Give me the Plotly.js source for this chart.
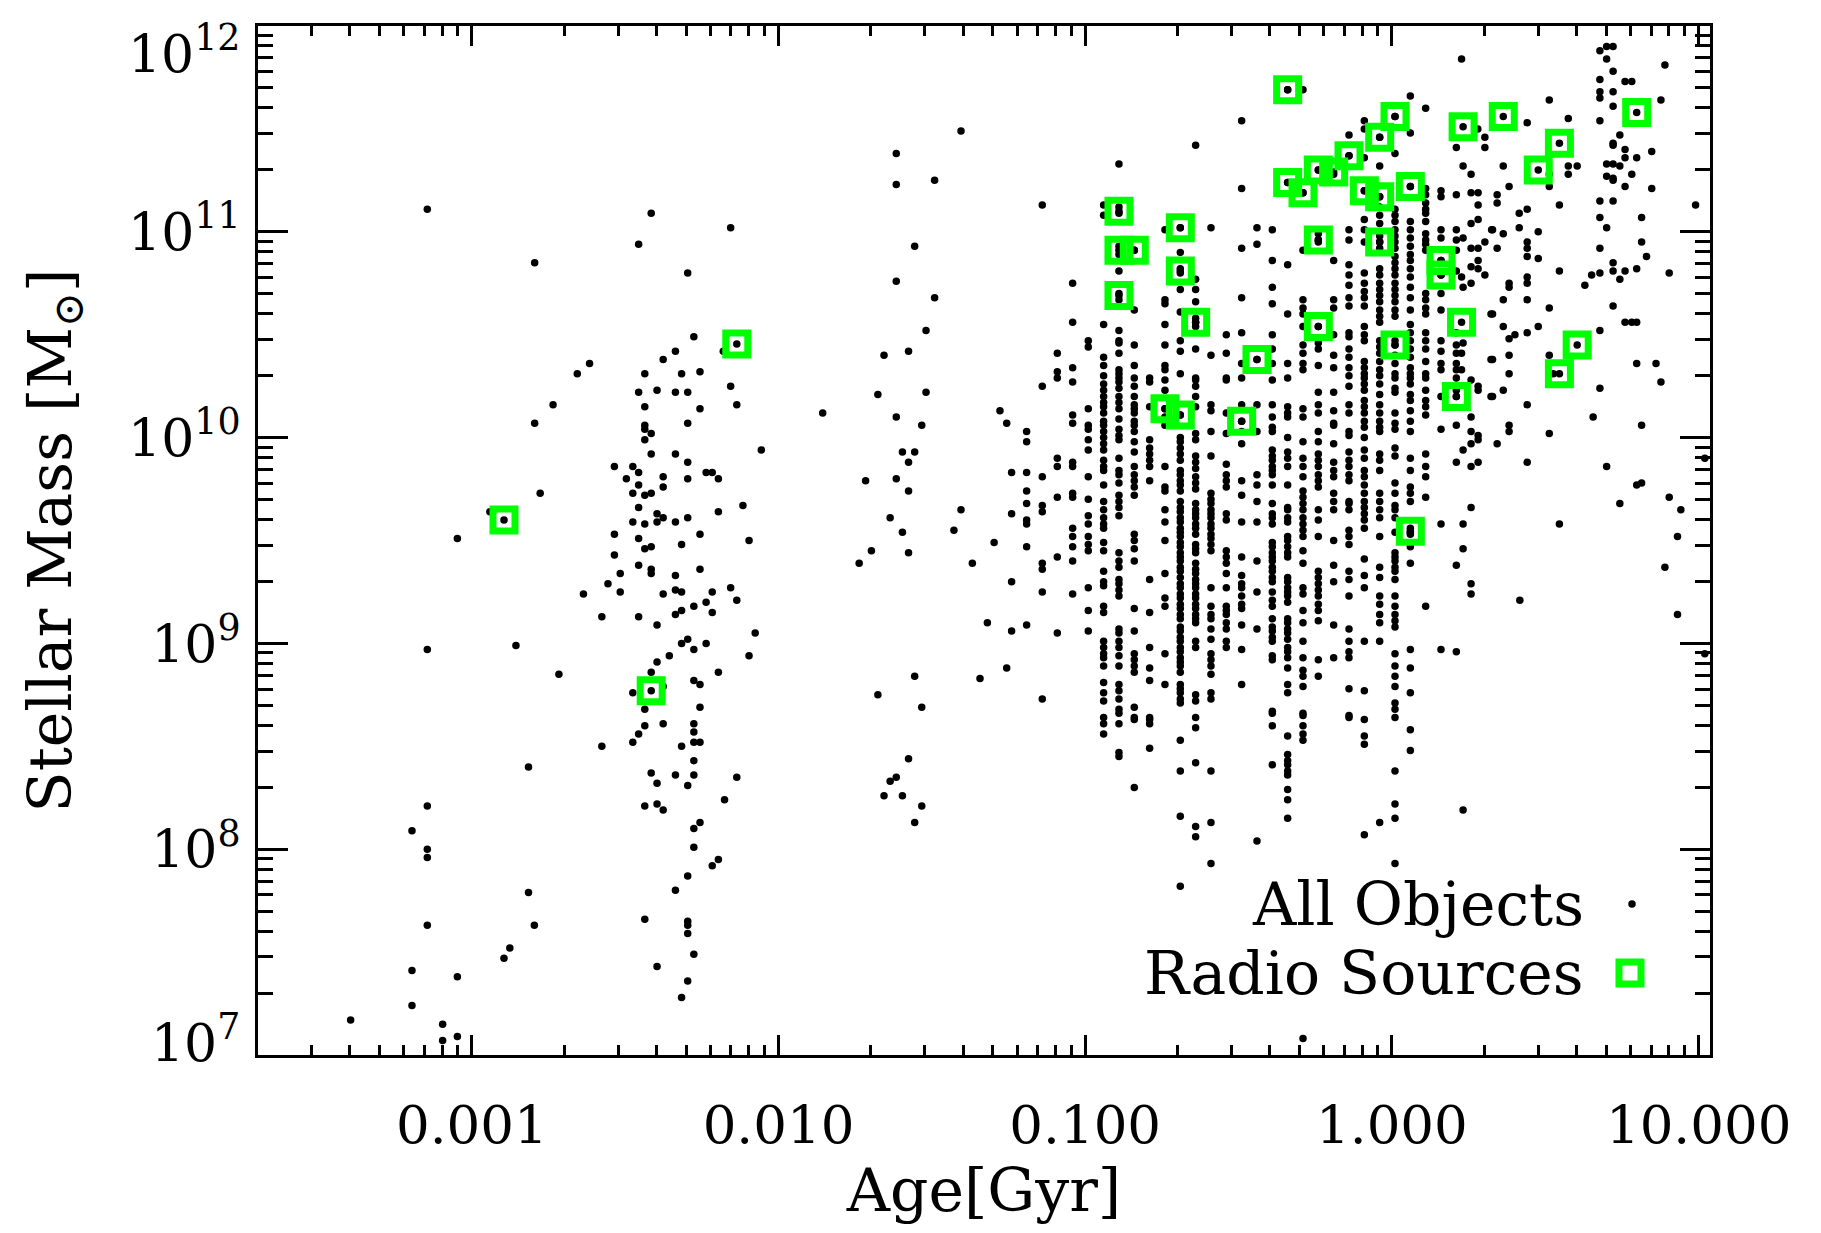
<!DOCTYPE html>
<html><head><meta charset="utf-8">
<script src="https://cdn.plot.ly/plotly-3.0.1.min.js"></script>
<style>html,body{margin:0;padding:0;background:#fff}</style>
</head><body><div id="chart" style="width:1821px;height:1233px"></div>
<script>
// ---- DATA (log10 Age [Gyr], log10 Stellar Mass [Msun]) ----

// Model-grid age columns (dense region, 0.1 - 1.6 Gyr)
const colLogAge = [-0.99,-0.94,-0.89,-0.84,-0.79,-0.74,-0.69,-0.64,-0.59,-0.54,-0.49,-0.44,-0.39,-0.34,-0.29,-0.24,-0.19,-0.14,-0.09,-0.04,0.01,0.06,0.11,0.16,0.21];
const colLogMass = [
 [10.47,10.44,10.14,10.06,10.04,9.99,9.94,9.81,9.70,9.62,9.58,9.52,9.48,9.45,9.27,9.16,9.06],
 [11.13,11.08,10.55,10.39,10.35,10.30,10.26,10.23,10.20,10.17,10.15,10.12,10.08,10.06,10.03,10.00,9.97,9.94,9.89,9.86,9.84,9.77,9.69,9.65,9.61,9.58,9.56,9.49,9.45,9.35,9.30,9.28,9.18,9.15,9.01,8.98,8.95,8.93,8.89,8.81,8.76,8.72,8.64,8.61,8.56],
 [11.33,11.12,11.09,10.93,10.89,10.81,10.70,10.67,10.52,10.47,10.46,10.41,10.33,10.31,10.29,10.27,10.24,10.20,10.17,10.14,10.09,10.04,10.01,9.99,9.90,9.84,9.82,9.78,9.72,9.69,9.66,9.62,9.44,9.40,9.37,9.31,9.29,9.26,9.23,9.07,9.05,9.01,8.98,8.94,8.89,8.80,8.77,8.73,8.68,8.66,8.61,8.47,8.45],
 [10.91,10.62,10.45,10.35,10.29,10.25,10.20,10.16,10.14,10.12,10.08,10.06,10.03,9.98,9.93,9.86,9.82,9.79,9.76,9.72,9.53,9.50,9.46,9.40,9.17,9.06,8.95,8.92,8.89,8.86,8.69,8.64,8.63,8.30],
 [10.29,10.27,10.15,9.99,9.95,9.92,9.89,9.86,9.79,9.31,9.15,8.98,8.88,8.82,8.64,8.63,8.61,8.49],
 [11.01,10.67,10.65,10.55,10.45,10.35,10.33,10.28,10.23,10.14,10.10,10.06,9.86,9.76,9.74,9.65,9.59,9.50,9.34,9.22,9.18,8.95,8.80],
 [11.02,10.90,10.82,10.80,10.72,10.61,10.47,10.42,10.31,10.11,10.00,9.98,9.95,9.92,9.89,9.84,9.82,9.79,9.77,9.74,9.69,9.66,9.64,9.61,9.59,9.56,9.54,9.52,9.49,9.47,9.44,9.42,9.40,9.37,9.35,9.32,9.29,9.27,9.24,9.22,9.19,9.17,9.14,9.12,9.08,9.06,9.03,9.01,8.98,8.96,8.93,8.91,8.89,8.86,8.80,8.78,8.76,8.73,8.71,8.53,8.38,8.16,7.82],
 [11.42,10.77,10.72,10.66,10.58,10.56,10.54,10.43,10.29,10.28,10.25,10.20,10.15,10.02,9.99,9.91,9.88,9.85,9.81,9.78,9.75,9.68,9.65,9.63,9.61,9.58,9.56,9.53,9.48,9.46,9.44,9.39,9.36,9.34,9.31,9.29,9.27,9.24,9.22,9.19,9.17,9.14,9.12,9.10,9.01,8.98,8.75,8.72,8.64,8.59,8.42,8.11,8.06],
 [11.02,10.40,10.16,10.13,10.03,9.91,9.73,9.70,9.68,9.65,9.63,9.61,9.58,9.56,9.53,9.51,9.48,9.45,9.27,9.18,9.14,9.12,9.07,9.02,8.95,8.92,8.89,8.85,8.76,8.73,8.38,8.13,7.93],
 [10.50,10.41,10.29,10.28,10.12,10.02,9.87,9.82,9.79,9.76,9.63,9.60,9.45,9.42,9.39,9.34,9.27,9.18,9.16,9.14,9.10,9.07,9.01,8.98],
 [11.54,11.21,10.92,10.68,10.51,10.36,10.29,10.16,10.08,10.03,9.97,9.79,9.72,9.59,9.42,9.33,9.29,9.27,9.23,9.19,9.17,9.09,8.97,8.80],
 [11.02,10.94,10.38,10.16,10.03,9.82,9.77,9.69,9.59,9.40,9.25,9.07,8.04],
 [11.01,10.86,10.73,10.65,10.50,10.43,10.36,10.28,10.16,10.10,10.05,10.03,9.94,9.91,9.89,9.86,9.84,9.82,9.77,9.68,9.63,9.61,9.58,9.49,9.47,9.44,9.42,9.40,9.37,9.35,9.32,9.30,9.25,9.21,9.18,9.12,9.08,9.06,9.03,9.01,8.94,8.92,8.67,8.66,8.60,8.41],
 [11.69,11.24,10.84,10.60,10.36,10.29,10.15,10.12,10.10,10.00,9.93,9.90,9.86,9.77,9.66,9.65,9.61,9.59,9.52,9.50,9.47,9.44,9.42,9.32,9.30,9.27,9.25,9.23,9.20,9.12,9.10,9.07,9.05,9.02,8.98,8.96,8.93,8.88,8.80,8.76,8.55,8.46,8.43,8.41,8.38,8.36,8.29,8.24,8.15],
 [11.69,11.19,10.91,10.67,10.63,10.60,10.54,10.45,10.41,10.36,10.33,10.14,10.10,9.98,9.90,9.86,9.81,9.74,9.71,9.68,9.65,9.61,9.58,9.55,9.52,9.45,9.39,9.27,9.24,9.16,9.10,9.01,8.93,8.87,8.84,8.79,8.66,8.65,8.60,8.56,8.53,7.08],
 [11.30,10.99,10.96,10.95,10.54,10.46,10.43,10.35,10.22,10.16,10.12,10.03,9.98,9.92,9.89,9.86,9.82,9.79,9.76,9.65,9.60,9.52,9.35,9.32,9.29,9.26,9.23,9.19,9.16,9.11,8.92,8.84],
 [11.28,10.86,10.67,10.63,10.50,10.40,10.34,10.22,10.13,10.07,10.06,9.97,9.88,9.84,9.81,9.73,9.69,9.65,9.50,9.38,9.30,9.09,8.93],
 [11.47,11.37,11.01,10.96,10.84,10.79,10.74,10.68,10.64,10.51,10.49,10.43,10.39,10.34,10.30,10.25,10.16,10.12,10.03,10.01,9.93,9.89,9.86,9.82,9.79,9.69,9.68,9.65,9.55,9.52,9.48,9.35,9.31,9.23,9.07,9.01,8.96,8.93,8.78,8.65,8.64],
 [11.54,11.50,11.36,11.20,11.06,11.01,10.95,10.80,10.75,10.71,10.68,10.64,10.54,10.50,10.47,10.37,10.34,10.31,10.29,10.26,10.23,10.18,10.15,10.12,10.08,10.05,10.00,9.94,9.90,9.84,9.81,9.77,9.73,9.69,9.66,9.63,9.60,9.56,9.41,9.33,9.27,9.01,8.77,8.63,8.55,8.51,8.07],
 [11.46,11.32,11.17,11.12,11.08,11.04,10.98,10.95,10.92,10.82,10.79,10.75,10.72,10.69,10.66,10.62,10.59,10.56,10.47,10.44,10.41,10.37,10.33,10.30,10.26,10.21,10.16,10.12,10.08,10.05,10.03,9.92,9.89,9.84,9.73,9.69,9.65,9.61,9.52,9.37,9.32,9.23,9.19,9.14,9.10,9.01,8.13],
 [11.56,11.38,11.11,11.08,11.05,11.01,10.98,10.95,10.92,10.88,10.85,10.82,10.79,10.75,10.72,10.69,10.66,10.62,10.59,10.47,10.45,10.40,10.36,10.31,10.29,10.24,10.22,10.12,10.07,10.04,9.95,9.91,9.78,9.73,9.67,9.65,9.61,9.54,9.44,9.42,9.40,9.37,9.35,9.31,9.23,9.18,9.14,9.11,9.08,8.95,8.89,8.84,8.79,8.71,8.68,8.64,8.38,8.22,8.15,7.93],
 [11.66,11.48,11.22,11.05,11.01,10.97,10.93,10.89,10.86,10.82,10.78,10.73,10.68,10.62,10.55,10.51,10.47,10.43,10.39,10.34,10.31,10.29,10.26,10.21,10.18,10.13,10.08,10.03,9.90,9.84,9.76,9.73,9.69,9.56,9.54,9.53,9.47,9.39,8.97,8.88,8.76,8.58,8.48],
 [11.60,11.21,11.18,11.14,11.11,11.09,11.05,10.99,10.96,10.94,10.91,10.70,10.67,10.63,10.60,10.51,10.47,10.43,10.37,10.31,10.29,10.23,10.18,10.15,10.11,9.92,9.86,9.81,9.71,9.18],
 [11.20,11.17,11.01,10.97,10.86,10.79,10.70,10.62,10.47,10.42,10.36,10.33,10.20,10.04,9.58,8.97],
 [11.41,11.18,11.01,10.96,10.91,10.81,10.51,10.45,10.41,10.36,10.33,10.29,10.23,10.20,10.06,9.88,9.38,8.96]
];

// Young objects (< 0.01 Gyr): [log age, log mass]
const youngPts = [
 [-3.145,11.11],[-2.415,11.09],[-2.156,11.02],[-2.456,10.94],[-2.795,10.85],[-2.296,10.80],[-2.276,10.49],[-2.180,10.42],[-2.336,10.42],[-2.376,10.38],
 [-2.616,10.36],[-2.656,10.31],[-2.436,10.31],[-2.316,10.31],[-2.256,10.32],[-2.156,10.25],[-2.456,10.22],[-2.396,10.23],[-2.336,10.22],[-2.296,10.22],
 [-2.735,10.16],[-2.436,10.15],[-2.256,10.14],[-2.136,10.16],[-2.795,10.07],[-2.436,10.06],[-2.436,10.04],[-2.415,10.02],[-2.436,9.99],[-2.296,10.07],
 [-2.056,9.94],[-2.415,9.92],[-2.336,9.92],[-2.296,9.88],[-2.535,9.86],[-2.475,9.86],[-2.456,9.83],[-2.496,9.80],[-2.456,9.77],[-2.475,9.73],
 [-2.436,9.72],[-2.415,9.73],[-2.376,9.81],[-2.376,9.76],[-2.296,9.80],[-2.236,9.83],[-2.216,9.83],[-2.196,9.80],[-2.777,9.73],[-2.456,9.66],
 [-2.196,9.64],[-2.116,9.67],[-2.396,9.63],[-2.376,9.61],[-2.396,9.59],[-2.475,9.59],[-2.436,9.58],[-2.336,9.59],[-2.296,9.61],[-2.941,9.64],
 [-2.535,9.53],[-2.456,9.51],[-2.256,9.53],[-3.047,9.51],[-2.096,9.50],[-2.316,9.48],[-2.436,9.46],[-2.415,9.47],[-2.535,9.43],[-2.456,9.38],
 [-2.415,9.36],[-2.415,9.34],[-2.516,9.34],[-2.256,9.36],[-2.336,9.33],[-2.556,9.29],[-2.516,9.25],[-2.636,9.24],[-2.376,9.24],[-2.336,9.26],
 [-2.316,9.25],[-2.216,9.25],[-2.156,9.27],[-2.136,9.21],[-2.236,9.20],[-2.276,9.18],[-2.576,9.13],[-2.456,9.13],[-2.396,9.09],[-2.336,9.14],
 [-2.316,9.16],[-2.216,9.15],[-2.076,9.05],[-3.145,8.97],[-2.856,8.99],[-2.316,9.00],[-2.296,9.02],[-2.236,9.00],[-2.276,8.97],[-2.096,8.94],
 [-2.396,8.91],[-2.356,8.94],[-2.716,8.85],[-2.415,8.86],[-2.196,8.86],[-2.475,8.76],[-2.376,8.79],[-2.276,8.82],[-2.256,8.80],[-2.256,8.69],
 [-2.436,8.68],[-2.436,8.60],[-2.456,8.56],[-2.475,8.52],[-2.376,8.61],[-2.276,8.61],[-2.276,8.57],[-2.276,8.52],[-2.256,8.52],[-2.576,8.50],
 [-2.316,8.50],[-2.276,8.43],[-2.815,8.40],[-2.415,8.37],[-2.396,8.32],[-2.336,8.36],[-2.296,8.31],[-2.276,8.36],[-2.136,8.35],[-2.176,8.24],
 [-3.145,8.21],[-2.436,8.21],[-2.396,8.22],[-2.376,8.19],[-3.195,8.09],[-2.276,8.10],[-2.256,8.13],[-3.145,8.00],[-3.145,7.96],[-2.276,8.01],
 [-2.216,7.92],[-2.196,7.95],[-2.296,7.87],[-2.336,7.80],[-2.815,7.79],[-3.145,7.63],[-2.796,7.63],[-2.436,7.66],[-2.296,7.65],[-2.296,7.63],
 [-2.296,7.59],[-2.876,7.52],[-2.895,7.47],[-2.276,7.49],[-3.195,7.41],[-3.047,7.38],[-2.396,7.43],[-2.296,7.36],[-2.316,7.28],[-3.195,7.24],
 [-3.395,7.17],[-3.095,7.15],[-3.047,7.09],[-3.095,7.07]
];

// Intermediate ages (0.01 - 0.1 Gyr)
const midPts = [
 [-1.405,11.49],[-1.616,11.38],[-1.616,11.23],[-1.491,11.25],[-1.140,11.13],[-1.556,10.93],[-1.616,10.76],[-1.491,10.68],[-1.041,10.75],[-1.041,10.56],
 [-1.519,10.52],[-1.656,10.40],[-1.576,10.42],[-1.676,10.21],[-1.519,10.22],[-1.856,10.12],[-1.616,10.10],[-1.533,10.06],[-1.596,9.93],[-1.556,9.93],
 [-1.576,9.88],[-1.716,9.79],[-1.616,9.80],[-1.576,9.74],[-1.636,9.61],[-1.596,9.54],[-1.405,9.65],[-1.428,9.55],[-1.697,9.45],[-1.737,9.39],
 [-1.576,9.44],[-1.368,9.39],[-1.297,9.49],[-1.278,10.13],[-1.256,10.07],[-1.191,10.03],[-1.191,9.98],[-1.240,9.83],[-1.191,9.83],[-1.140,9.81],
 [-1.091,10.41],[-1.091,10.32],[-1.091,10.29],[-1.140,10.25],[-1.041,10.34],[-1.041,10.27],[-1.041,10.11],[-1.041,10.07],[-1.091,9.90],[-1.091,9.86],
 [-1.041,9.88],[-1.041,9.86],[-1.191,9.74],[-1.191,9.68],[-1.191,9.60],[-1.191,9.58],[-1.240,9.63],[-1.140,9.67],[-1.140,9.64],[-1.091,9.71],
 [-1.041,9.73],[-1.041,9.71],[-1.191,9.47],[-1.140,9.39],[-1.140,9.36],[-1.091,9.42],[-1.041,9.56],[-1.041,9.52],[-1.041,9.47],[-1.041,9.40],
 [-1.240,9.30],[-1.140,9.25],[-1.041,9.24],[-1.319,9.10],[-1.240,9.06],[-1.191,9.09],[-1.091,9.05],[-1.556,8.84],[-1.676,8.75],[-1.533,8.69],
 [-1.343,8.83],[-1.256,8.88],[-1.140,8.73],[-1.576,8.44],[-1.616,8.35],[-1.636,8.33],[-1.656,8.26],[-1.596,8.26],[-1.533,8.21],[-1.556,8.13]
];

// Old objects off the grid (> 1.6 Gyr)
const oldPts = [
 [0.227,11.84],[0.280,11.50],[0.303,11.46],[0.303,11.41],[0.232,11.32],[0.258,11.28],[0.258,11.19],[0.281,11.19],[0.281,11.13],[0.281,11.06],
 [0.258,11.04],[0.232,10.97],[0.325,11.01],[0.303,10.95],[0.281,10.92],[0.258,10.92],[0.258,10.83],[0.281,10.86],[0.281,10.82],[0.303,10.79],
 [0.258,10.75],[0.227,10.78],[0.232,10.73],[0.323,10.60],[0.232,10.46],[0.227,10.41],[0.227,10.33],[0.323,10.38],[0.258,10.28],[0.281,10.25],
 [0.281,10.23],[0.323,10.20],[0.258,10.10],[0.258,10.03],[0.281,10.01],[0.281,9.99],[0.258,9.97],[0.232,9.94],[0.281,9.88],[0.258,9.86],
 [0.258,9.66],[0.232,9.58],[0.232,9.46],[0.258,9.29],[0.258,9.24],[0.232,8.19],
 [0.678,11.88],[0.700,11.90],[0.721,11.90],[0.700,11.84],[0.890,11.81],[0.721,11.78],[0.678,11.74],[0.760,11.73],[0.782,11.73],[0.678,11.68],
 [0.678,11.65],[0.721,11.68],[0.513,11.64],[0.877,11.64],[0.721,11.61],[0.441,11.53],[0.575,11.55],[0.678,11.54],[0.743,11.47],[0.721,11.43],
 [0.721,11.42],[0.760,11.40],[0.760,11.36],[0.847,11.39],[0.798,11.36],[0.700,11.33],[0.721,11.33],[0.743,11.32],[0.782,11.28],[0.700,11.27],
 [0.721,11.26],[0.721,11.25],[0.760,11.22],[0.847,11.21],[0.363,11.32],[0.575,11.32],[0.604,11.32],[0.575,11.28],[0.513,11.28],[0.513,11.22],
 [0.382,11.22],[0.343,11.18],[0.343,11.14],[0.546,11.13],[0.678,11.15],[0.721,11.15],[0.990,11.13],[0.415,11.09],[0.441,11.11],[0.678,11.07],
 [0.814,11.07],[0.700,11.02],[0.328,11.01],[0.363,10.99],[0.415,11.02],[0.477,11.00],[0.343,10.92],[0.441,10.95],[0.441,10.92],[0.441,10.88],
 [0.477,10.87],[0.678,10.92],[0.814,10.95],[0.830,10.88],[0.546,10.81],[0.629,10.74],[0.651,10.79],[0.678,10.80],[0.721,10.85],[0.721,10.81],
 [0.743,10.77],[0.760,10.81],[0.798,10.82],[0.904,10.80],[0.382,10.75],[0.382,10.73],[0.441,10.78],[0.441,10.75],[0.363,10.67],[0.441,10.67],
 [0.513,10.63],[0.721,10.64],[0.328,10.60],[0.363,10.54],[0.441,10.51],[0.477,10.54],[0.382,10.48],[0.401,10.50],[0.678,10.52],[0.760,10.56],
 [0.782,10.56],[0.798,10.56],[0.513,10.40],[0.526,10.31],[0.328,10.38],[0.382,10.40],[0.382,10.31],[0.328,10.20],[0.363,10.23],[0.798,10.36],
 [0.861,10.36],[0.877,10.27],[0.678,10.24],[0.441,10.16],[0.656,10.10],[0.814,10.06],[0.382,10.06],[0.382,10.03],[0.513,10.02],[0.343,9.97],
 [1.020,9.90],[0.441,9.88],[0.700,9.86],[0.798,9.77],[0.814,9.78],[0.743,9.68],[0.904,9.71],[0.942,9.65],[0.546,9.58],[0.931,9.52],
 [0.890,9.37],[0.417,9.21],[0.931,9.14],[1.020,8.95]
];

// Radio sources (subset of all objects)
const radioLogAge  = [-2.895,-2.415,-2.136,-0.89,-0.89,-0.84,-0.89,-0.69,-0.69,-0.64,-0.74,-0.69,-0.44,-0.49,-0.34,-0.34,-0.29,-0.24,-0.19,-0.14,-0.04,0.01,-0.09,-0.04,0.06,-0.24,-0.04,-0.24,0.01,0.16,0.16,0.227,0.232,0.21,0.06,0.363,0.477,0.546,0.798,0.604,0.546];
const radioLogMass = [9.60,8.77,10.455,11.10,10.91,10.91,10.69,11.02,10.81,10.56,10.14,10.11,10.38,10.08,11.69,11.24,11.19,11.30,11.29,11.37,11.46,11.56,11.20,11.17,11.22,10.96,10.95,10.54,10.45,10.86,10.79,10.56,11.51,10.20,9.545,11.56,11.30,11.43,11.58,10.45,10.31];

// Axis tick labels
const xTickVals = [0.001, 0.01, 0.1, 1, 10];
const xTickText = ['0.001', '0.010', '0.100', '1.000', '10.000'];
const yTickVals = [1e7, 1e8, 1e9, 1e10, 1e11, 1e12];
const yTickText = ['10<sup>7</sup>','10<sup>8</sup>','10<sup>9</sup>','10<sup>10</sup>','10<sup>11</sup>','10<sup>12</sup>'];
const legendLabels = ['All Objects', 'Radio Sources'];

// ---- BUILD ----
const allX = [], allY = [];
colLogAge.forEach((la, i) => colLogMass[i].forEach(lm => { allX.push(Math.pow(10, la)); allY.push(Math.pow(10, lm)); }));
[youngPts, midPts, oldPts].forEach(g => g.forEach(p => { allX.push(Math.pow(10, p[0])); allY.push(Math.pow(10, p[1])); }));
radioLogAge.forEach((la, i) => { allX.push(Math.pow(10, la)); allY.push(Math.pow(10, radioLogMass[i])); });

const radioX = radioLogAge.map(v => Math.pow(10, v));
const radioY = radioLogMass.map(v => Math.pow(10, v));

const xMinor = [], yMinor = [];
for (let d = -4; d <= 1; d++) for (let m = 2; m <= 9; m++) xMinor.push(m * Math.pow(10, d));
for (let d = 7; d <= 11; d++) for (let m = 2; m <= 9; m++) yMinor.push(m * Math.pow(10, d));

const FONT = 'DejaVu Serif';
const GREEN = '#00ff00';
const YTICKFONT = {family:FONT, size:52, color:'black'};

// Edge labels (10^7 and 10^12) are nudged inward like the reference; inner labels drawn by the axis
const yAxisText = yTickText.map((t, i) => (i === 0 || i === yTickText.length - 1) ? '' : t);

const traces = [
 {type:'scatter', mode:'markers', x:allX, y:allY, name:legendLabels[0],
  marker:{symbol:'circle', size:7.5, color:'black', line:{width:0}}, hoverinfo:'x+y'},
 {type:'scatter', mode:'markers', x:radioX, y:radioY, name:legendLabels[1],
  marker:{symbol:'square-open', size:22, color:GREEN, line:{width:7, color:GREEN}}, hoverinfo:'x+y'}
];

const axisCommon = {
 type:'log', tickmode:'array', ticks:'inside', tickcolor:'black', tickwidth:3,
 showline:true, linewidth:3, linecolor:'black', mirror:'allticks',
 showgrid:false, zeroline:false, automargin:false
};

const layout = {
 width:1821, height:1233,
 margin:{l:258, r:111, t:26, b:178},
 paper_bgcolor:'white', plot_bgcolor:'white',
 showlegend:false,
 font:{family:FONT, color:'black'},
 xaxis:Object.assign({}, axisCommon, {
  range:[-3.697, 1.037], tickvals:xTickVals, ticktext:xTickText, ticklen:20,
  tickfont:{family:FONT, size:53, color:'black'}, ticklabelstandoff:21,
  minor:{tickmode:'array', tickvals:xMinor, ticks:'inside', ticklen:10, tickwidth:3, tickcolor:'black', showgrid:false},
  title:{text:'Age[Gyr]', font:{family:FONT, size:60, color:'black'}, standoff:14}
 }),
 yaxis:Object.assign({}, axisCommon, {
  range:[7, 12], tickvals:yTickVals, ticktext:yAxisText, ticklen:30,
  tickfont:YTICKFONT, ticklabelstandoff:4,
  minor:{tickmode:'array', tickvals:yMinor, ticks:'inside', ticklen:15, tickwidth:3, tickcolor:'black', showgrid:false},
  title:{text:'Stellar Mass [M<sub>⊙</sub>]', font:{family:FONT, size:60, color:'black'}, standoff:38}
 }),
 annotations:[
  {xref:'paper', yref:'y', x:0, y:12, xanchor:'right', yanchor:'middle', xshift:-16, yshift:-24, showarrow:false,
   text:yTickText[yTickText.length - 1], font:YTICKFONT},
  {xref:'paper', yref:'y', x:0, y:7, xanchor:'right', yanchor:'middle', xshift:-16, yshift:16, showarrow:false,
   text:yTickText[0], font:YTICKFONT},
  {xref:'paper', yref:'paper', x:0.9145, y:0.1467, xanchor:'right', yanchor:'middle', showarrow:false,
   text:legendLabels[0], font:{family:FONT, size:60, color:'black'}},
  {xref:'paper', yref:'paper', x:0.9145, y:0.0797, xanchor:'right', yanchor:'middle', showarrow:false,
   text:legendLabels[1], font:{family:FONT, size:60, color:'black'}}
 ],
 shapes:[
  {type:'circle', xref:'paper', yref:'paper', xsizemode:'pixel', ysizemode:'pixel',
   xanchor:0.9463, yanchor:0.1467, x0:-3.75, x1:3.75, y0:-3.75, y1:3.75,
   fillcolor:'black', line:{width:0}},
  {type:'rect', xref:'paper', yref:'paper', xsizemode:'pixel', ysizemode:'pixel',
   xanchor:0.9449, yanchor:0.0797, x0:-11, x1:11, y0:-11, y1:11,
   fillcolor:'rgba(0,0,0,0)', line:{width:7, color:GREEN}}
 ]
};

Plotly.newPlot('chart', traces, layout, {displayModeBar:false, staticPlot:true});
</script></body></html>
